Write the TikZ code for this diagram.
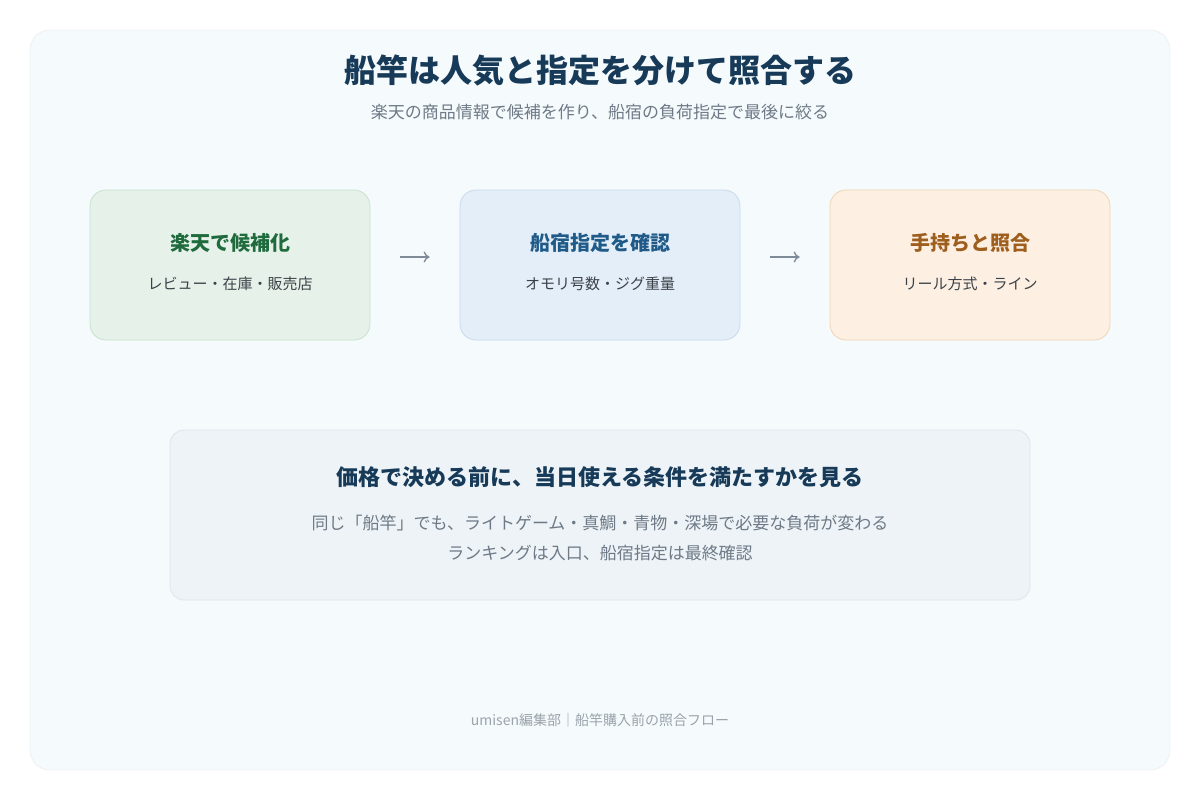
\documentclass[tikz,border=0pt]{standalone}
\usepackage{fontspec}
\setmainfont{Noto Sans CJK JP}
\usetikzlibrary{positioning,arrows.meta}
\definecolor{navy}{HTML}{173A58}
\definecolor{subgray}{HTML}{6E7A87}
\definecolor{bodygray}{HTML}{3B4148}
\definecolor{panelfill}{HTML}{F5FAFC}
\definecolor{panelline}{HTML}{E0EAF0}
\definecolor{gfill}{HTML}{E6F2E9}
\definecolor{gline}{HTML}{C6E2CD}
\definecolor{gtext}{HTML}{1F6B3D}
\definecolor{bfill}{HTML}{E4EEF8}
\definecolor{bline}{HTML}{C8DAEB}
\definecolor{btext}{HTML}{1F5A88}
\definecolor{ofill}{HTML}{FDF0E3}
\definecolor{oline}{HTML}{F0D5B2}
\definecolor{otext}{HTML}{9E5F1E}
\definecolor{nfill}{HTML}{EDF3F6}
\definecolor{nline}{HTML}{DCE6EC}
\definecolor{arrowgray}{HTML}{7F8B99}
\tikzset{
	stepbox/.style={rounded corners=16pt, minimum width=280pt, minimum height=150pt, line width=0.8pt},
	steptitle/.style={font=\fontsize{20}{24}\selectfont\bfseries},
	stepsub/.style={font=\fontsize{15}{18}\selectfont, text=bodygray},
}
\begin{document}
\begin{tikzpicture}[x=1pt,y=-1pt]
		\useasboundingbox[fill=white] (0,0) rectangle (1200,800);
		\draw[panelline, fill=panelfill, rounded corners=20pt] (30,30) rectangle (1170,770);
		\node[text=navy, font=\fontsize{32}{38}\selectfont\bfseries] at (600,70)(title){船竿は人気と指定を分けて照合する};
		\node[text=subgray, font=\fontsize{17}{20}\selectfont] at (600,112)(subtitle){楽天の商品情報で候補を作り、船宿の負荷指定で最後に絞る};
		\node[stepbox, draw=gline, fill=gfill] at (230,265)(rakuten){};
		\node[stepbox, draw=bline, fill=bfill] at (600,265)(funayado){};
		\node[stepbox, draw=oline, fill=ofill] at (970,265)(temochi){};
		\node[steptitle, text=gtext] at (230,243){楽天で候補化};
		\node[stepsub] at (230,284){レビュー・在庫・販売店};
		\node[steptitle, text=btext] at (600,243){船宿指定を確認};
		\node[stepsub] at (600,284){オモリ号数・ジグ重量};
		\node[steptitle, text=otext] at (970,243){手持ちと照合};
		\node[stepsub] at (970,284){リール方式・ライン};
		\path[-{To[length=6pt,width=11pt]}, arrowgray, line width=1.4pt, shorten <=30pt, shorten >=30pt]
			([yshift=8pt]rakuten.east) edge ([yshift=8pt]funayado.west)
			([yshift=8pt]funayado.east) edge ([yshift=8pt]temochi.west);
		\node[draw=nline, fill=nfill, rounded corners=14pt, minimum width=860pt, minimum height=170pt, line width=0.8pt] at (600,515)(note){};
		\node[text=navy, font=\fontsize{22}{26}\selectfont\bfseries] at (600,477){価格で決める前に、当日使える条件を満たすかを見る};
		\node[text=subgray, font=\fontsize{17}{20}\selectfont] at (600,523){同じ「船竿」でも、ライトゲーム・真鯛・青物・深場で必要な負荷が変わる};
		\node[text=subgray, font=\fontsize{17}{20}\selectfont] at (600,553){ランキングは入口、船宿指定は最終確認};
		\node[text=subgray!70, font=\fontsize{14}{17}\selectfont] at (600,720)(footer){umisen編集部｜船竿購入前の照合フロー};
	\end{tikzpicture}
\end{document}
